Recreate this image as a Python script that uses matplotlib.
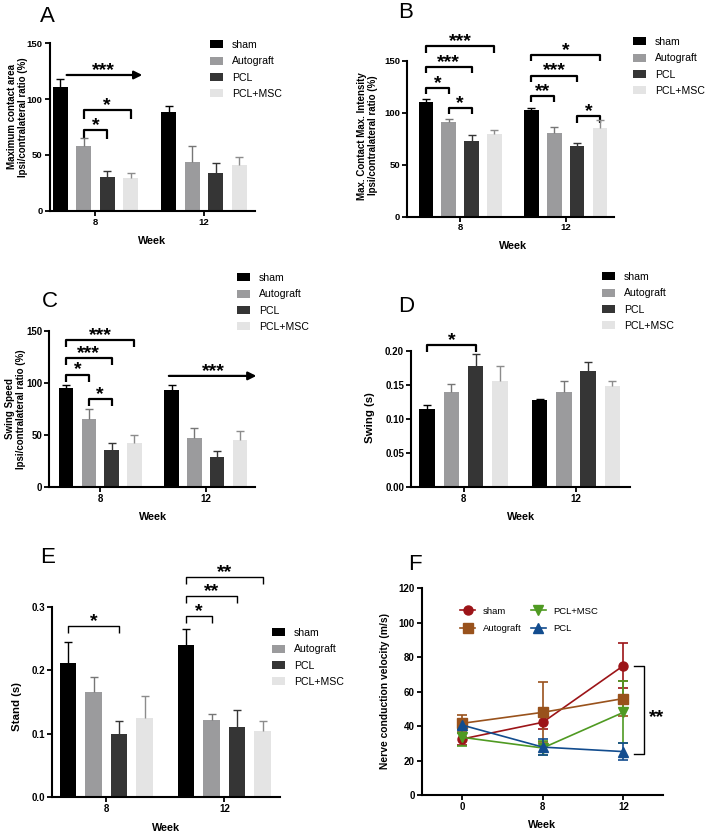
import numpy as np
import matplotlib
matplotlib.use("Agg")
import matplotlib.pyplot as plt
from matplotlib.lines import Line2D

plt.rcParams['font.family'] = ['Liberation Sans', 'DejaVu Sans']

W, H = 709, 834

weeks = ['8', '12']
groups = ['sham', 'Autograft', 'PCL', 'PCL+MSC']
bar_colors = ['#000000', '#9b9b9d', '#353535', '#e4e4e4']
err_colors = ['#000000', '#767676', '#353535', '#8c8c8c']

# rows = groups (sham, Autograft, PCL, PCL+MSC), cols = week 8, week 12
A_means = [[111, 88], [58, 44], [30, 34], [29, 41]]
A_errs = [[7, 6], [7, 14], [6, 9], [5, 7]]
B_means = [[110, 103], [91, 81], [73, 68], [80, 85]]
B_errs = [[3, 2], [3, 5], [6, 3], [3, 8]]
C_means = [[95, 93], [65, 47], [36, 29], [42, 45]]
C_errs = [[3, 5], [10, 10], [6, 6], [8, 9]]
D_means = [[0.115, 0.127], [0.140, 0.140], [0.177, 0.170], [0.155, 0.148]]
D_errs = [[0.006, 0.002], [0.011, 0.015], [0.018, 0.014], [0.023, 0.007]]
E_means = [[0.212, 0.240], [0.165, 0.122], [0.100, 0.110], [0.125, 0.105]]
E_errs = [[0.033, 0.025], [0.025, 0.009], [0.020, 0.028], [0.034, 0.015]]

# nerve conduction velocity
F_weeks = ['0', '8', '12']
F_labels = ['sham', 'Autograft', 'PCL+MSC', 'PCL']
F_colors = ['#9c1418', '#99521c', '#4f9a22', '#124c8e']
F_markers = ['o', 's', 'v', '^']
F_means = [[32.5, 42.2, 75.1], [41.6, 48.0, 56.0], [33.5, 27.3, 48.0], [40.6, 27.8, 25.2]]
F_errs = [[3.4, 4.0, 13.0], [4.8, 17.4, 10.0], [5.0, 4.3, 18.0], [2.0, 4.5, 4.8]]

# significance brackets: (week index, bar a, bar b, height, stars)
A_br = [(0, 1, 3, 90, '*'), (0, 1, 2, 72, '*')]
B_br = [(0, 0, 3, 164, '***'), (0, 0, 2, 144, '***'), (0, 0, 1, 124, '*'), (0, 1, 2, 104.5, '*'),
        (1, 0, 3, 156, '*'), (1, 0, 2, 136, '***'), (1, 0, 1, 116.5, '**'), (1, 2, 3, 96.5, '*')]
C_br = [(0, 0, 3, 141, '***'), (0, 0, 2, 124, '***'), (0, 0, 1, 108, '*'), (0, 1, 2, 84.5, '*')]
D_br = [(0, 0, 2, 0.2085, '*')]
E_br = [(0, 0, 2, 0.269, '*'), (1, 0, 1, 0.2855, '*'), (1, 0, 2, 0.3175, '**'), (1, 0, 3, 0.347, '**')]

G = 4.63
STAR_FS = 14


def axes_px(left, right, top, bottom):
    return fig.add_axes([left / W, 1 - bottom / H, (right - left) / W, (bottom - top) / H])


def style(ax, tick_fs):
    for s in ['top', 'right']:
        ax.spines[s].set_visible(False)
    for s in ['left', 'bottom']:
        ax.spines[s].set_linewidth(1.5)
    ax.tick_params(width=1.3, length=3.5, labelsize=tick_fs, pad=1.5)
    for t in ax.get_xticklabels() + ax.get_yticklabels():
        t.set_fontweight('bold')


def bar_panel(ax, means, errs, xlim, ylim, yticks, ylab, fmt, tick_fs=7):
    for bi in range(4):
        xs = [gi * G + bi for gi in range(2)]
        ax.bar(xs, means[bi], width=0.64, color=bar_colors[bi], label=groups[bi], zorder=2)
        eb = ax.errorbar(xs, means[bi], yerr=[[0, 0], errs[bi]], fmt='none', ecolor=err_colors[bi],
                         elinewidth=1.0, capsize=2.6, capthick=1.0, zorder=3)
        eb[1][0].set_visible(False)
    ax.set_xlim(*xlim)
    ax.set_ylim(*ylim)
    ax.set_yticks(yticks)
    ax.set_yticklabels([fmt.format(v) for v in yticks])
    ax.set_xticks([gi * G + 1.5 for gi in range(2)])
    ax.set_xticklabels(weeks)
    ax.set_ylabel(ylab, fontsize=7, fontweight='bold', linespacing=1.1)
    ax.set_xlabel('Week', fontsize=7.8, fontweight='bold')
    style(ax, tick_fs)


def brackets(ax, items, leg, lw=1.6, fs=STAR_FS):
    for gi, a, b, y, txt in items:
        x1, x2 = gi * G + a, gi * G + b
        ax.plot([x1, x1, x2, x2], [y - leg, y, y, y - leg], color='black', lw=lw, clip_on=False,
                solid_capstyle='butt')
        ax.text((x1 + x2) / 2, y, txt, ha='center', va='baseline', fontsize=fs, fontweight='bold',
                clip_on=False)


def arrow(ax, x0, x1, y, tx):
    ax.annotate('', xy=(x1, y), xytext=(x0, y), annotation_clip=False,
                arrowprops=dict(arrowstyle='-|>', lw=1.6, color='black', mutation_scale=12,
                                shrinkA=0, shrinkB=0))
    ax.text(tx, y, '***', ha='center', va='baseline', fontsize=STAR_FS, fontweight='bold',
            clip_on=False)


def legend_px(ax, x, ytop, fs=7.6):
    ax.legend(loc='upper left', bbox_to_anchor=(x / W, 1 - ytop / H), bbox_transform=fig.transFigure,
              frameon=False, fontsize=fs, borderpad=0, borderaxespad=0, handlelength=1.25,
              handleheight=0.75, handletextpad=0.85, labelspacing=0.6)


def letter(txt, x, y):
    fig.text(x / W, 1 - y / H, txt, fontsize=16, ha='left', va='baseline')


fig = plt.figure(figsize=(W / 100, H / 100), dpi=100)

# A
axA = axes_px(49.5, 255, 43.3, 210.7)
bar_panel(axA, A_means, A_errs, (-0.45, 8.3), (0, 150), [0, 50, 100, 150],
          'Maximum contact area\nIpsi/contralateral ratio (%)', '{:.0f}', tick_fs=6.8)
brackets(axA, A_br, 8)
arrow(axA, 0.28, 3.5, 121.6, 1.85)
axA.yaxis.set_label_coords(-0.105, 0.56)
axA.xaxis.set_label_coords(0.5, -0.15)
legend_px(axA, 210, 40)
letter('A', 40, 21.7)

# B
axB = axes_px(407, 614, 61, 216.5)
bar_panel(axB, B_means, B_errs, (-0.83, 8.25), (0, 150), [0, 50, 100, 150],
          'Max. Contact Max. Intensity\nIpsi/contralateral ratio (%)', '{:.0f}', tick_fs=6.8)
brackets(axB, B_br, 6)
axB.yaxis.set_label_coords(-0.14, 0.52)
axB.xaxis.set_label_coords(0.51, -0.156)
legend_px(axB, 633, 37)
letter('B', 398, 18.3)

# C
axC = axes_px(49, 255, 330.7, 487.3)
bar_panel(axC, C_means, C_errs, (-0.75, 8.29), (0, 150), [0, 50, 100, 150],
          'Swing Speed\nIpsi/contralateral ratio (%)', '{:.0f}')
brackets(axC, C_br, 7)
arrow(axC, 4.51, 8.35, 106.7, 6.45)
axC.yaxis.set_label_coords(-0.112, 0.5)
axC.xaxis.set_label_coords(0.505, -0.156)
legend_px(axC, 236.7, 273)
letter('C', 42, 307.3)

# D
axD = axes_px(411, 630, 350.7, 487)
bar_panel(axD, D_means, D_errs, (-0.66, 8.35), (0, 0.2), [0, 0.05, 0.10, 0.15, 0.20],
          'Swing (s)', '{:.2f}')
axD.yaxis.label.set_fontsize(8.2)
brackets(axD, D_br, 0.01)
axD.yaxis.set_label_coords(-0.164, 0.506)
axD.xaxis.set_label_coords(0.502, -0.186)
legend_px(axD, 602, 272)
letter('D', 398, 311.7)

# E
axE = axes_px(51.7, 280, 606.7, 797.3)
bar_panel(axE, E_means, E_errs, (-0.64, 8.31), (0, 0.3), [0, 0.1, 0.2, 0.3],
          'Stand (s)', '{:.1f}')
axE.yaxis.label.set_fontsize(8.2)
brackets(axE, E_br, 0.011, lw=1.0)
axE.yaxis.set_label_coords(-0.13, 0.475)
axE.xaxis.set_label_coords(0.5, -0.136)
legend_px(axE, 272, 628)
letter('E', 40, 563.3)

# F
axF = axes_px(421.7, 663, 588.3, 795)
xs = np.arange(len(F_weeks))
for i in range(4):
    axF.errorbar(xs, F_means[i], yerr=F_errs[i], color=F_colors[i], marker=F_markers[i], ms=6.5,
                 lw=1.2, elinewidth=1.2, capsize=3.5, capthick=1.2, zorder=3)
axF.set_xlim(-0.5, 2.49)
axF.set_ylim(0, 120)
axF.set_yticks(range(0, 121, 20))
axF.set_xticks(xs)
axF.set_xticklabels(F_weeks)
axF.set_ylabel('Nerve conduction velocity (m/s)', fontsize=7.4, fontweight='bold')
axF.set_xlabel('Week', fontsize=7.8, fontweight='bold')
style(axF, 7)
axF.plot([2.13, 2.25, 2.25, 2.13], [75, 75, 23.8, 23.8], color='black', lw=1.0, clip_on=False)
axF.annotate('**', xy=(2.41, 48.8), xytext=(0, -8), textcoords='offset points', ha='center',
             va='baseline', fontsize=STAR_FS, fontweight='bold', annotation_clip=False)
axF.yaxis.set_label_coords(-0.131, 0.505)
axF.xaxis.set_label_coords(0.499, -0.121)
handles = [Line2D([], [], color=F_colors[i], marker=F_markers[i], ms=6.5, lw=1.2) for i in range(4)]
axF.legend(handles, F_labels, loc='upper left', bbox_to_anchor=(460 / W, 1 - 606.5 / H),
           bbox_transform=fig.transFigure, ncol=2, frameon=False, fontsize=6.8, borderpad=0,
           borderaxespad=0, handlelength=1.6, handletextpad=0.8, labelspacing=0.9, columnspacing=1.0)
letter('F', 408, 570)

fig.savefig('out.png', dpi=100)
